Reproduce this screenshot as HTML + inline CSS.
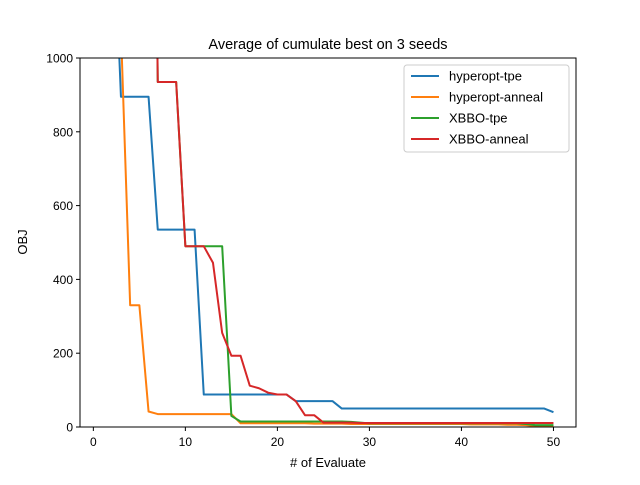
<!DOCTYPE html>
<html><head><meta charset="utf-8"><style>body{margin:0;background:#fff}svg{font-family:"Liberation Sans","DejaVu Sans",sans-serif}</style></head>
<body>
<svg id="c" width="640" height="480">
<rect width="640" height="480" fill="#fff"/>
<defs><clipPath id="cp"><rect x="80" y="58" width="496" height="369"/></clipPath></defs>
<text x="328" y="49" font-size="14.5" text-anchor="middle">Average of cumulate best on 3 seeds</text>
<g id="axes"></g>
<g id="lines" clip-path="url(#cp)"></g>
<rect x="80" y="58" width="496" height="369" fill="none" stroke="#000" stroke-width="1"/>
<text x="328" y="467" font-size="13" text-anchor="middle"># of Evaluate</text>
<text x="27" y="242" font-size="13" text-anchor="middle" transform="rotate(-90 27 242)">OBJ</text>
<g id="legend"></g>
</svg>
<script>
const xs = Array.from({length:50},(_,i)=>i+1);
const seriesNames = ["hyperopt-tpe","hyperopt-anneal","XBBO-tpe","XBBO-anneal"];
const colors = ["#1f77b4","#ff7f0e","#2ca02c","#d62728"];
const tpeVals = [3000,1500,895,895,895,895,535,535,535,535,535,88,88,88,88,88,88,88,88,88,88,70,70,70,70,70,50,50,50,50,50,50,50,50,50,50,50,50,50,50,50,50,50,50,50,50,50,50,50,40];
const annealVals = [3000,2000,1075,330,330,42,35,35,35,35,35,35,35,35,35,10,10,10,10,10,10,10,10,9,9,9,9,8,8,8,8,8,8,8,8,8,8,8,8,8,7,7,7,7,6,6,5,3,3,3];
const xbboTpeVals = [3000,3000,3000,3000,3000,3000,935,935,935,490,490,490,490,490,30,15,15,15,15,15,15,15,15,15,15,15,15,14,12,10,10,10,10,10,10,10,10,10,10,10,10,10,10,10,10,10,8,5,5,5];
const xbboAnnealVals = [3000,3000,3000,3000,3000,3000,935,935,935,490,490,490,445,255,193,193,112,105,93,88,88,70,32,32,12,12,12,12,11,11,11,11,11,11,11,11,11,11,11,11,11,11,11,11,11,11,11,11,11,11];
const xTicks = [0,10,20,30,40,50];
const yTicks = [0,200,400,600,800,1000];
const sx = v => 80 + (v + 1.45) / 53.9 * 496;
const sy = v => 427 - v / 1000 * 369;
const NS = "http://www.w3.org/2000/svg";
function mk(tag, attrs, parent, txt){const e=document.createElementNS(NS,tag);for(const k in attrs)e.setAttribute(k,attrs[k]);if(txt!==undefined)e.textContent=txt;parent.appendChild(e);return e;}
const ax = document.getElementById("axes");
xTicks.forEach(t=>{
  const l=mk("line",{x1:sx(t),x2:sx(t),y1:427,y2:431,stroke:"#000"},ax);
  
  
  const tx=mk("text",{x:sx(t),y:446,"font-size":"12","text-anchor":"middle"},ax,String(t));
  
  
});
yTicks.forEach(t=>{
  const l=mk("line",{x1:76,x2:80,y1:sy(t),y2:sy(t),stroke:"#000"},ax);
  
  
  const tx=mk("text",{x:73,y:sy(t)+4.5,"font-size":"12","text-anchor":"end"},ax,String(t));
  
  
});
const all=[tpeVals,annealVals,xbboTpeVals,xbboAnnealVals];
const lg=document.getElementById("lines");
all.forEach((vals,i)=>{
  const p=mk("polyline",{points:vals.map((v,j)=>sx(xs[j])+","+sy(v)).join(" "),fill:"none",stroke:colors[i],"stroke-width":"2","stroke-linejoin":"round"},lg);
  
  
});
const leg=document.getElementById("legend");
const box=mk("rect",{x:404,y:65,width:165,height:87,rx:3,fill:"#fff","fill-opacity":"0.8",stroke:"#ccc"},leg);


seriesNames.forEach((n,i)=>{
  const y=76+i*21;
  const l=mk("line",{x1:411,x2:439,y1:y,y2:y,stroke:colors[i],"stroke-width":"2"},leg);
  
  
  const t=mk("text",{x:449,y:y+4.5,"font-size":"13"},leg,n);
  
  
});
</script>
</body></html>
